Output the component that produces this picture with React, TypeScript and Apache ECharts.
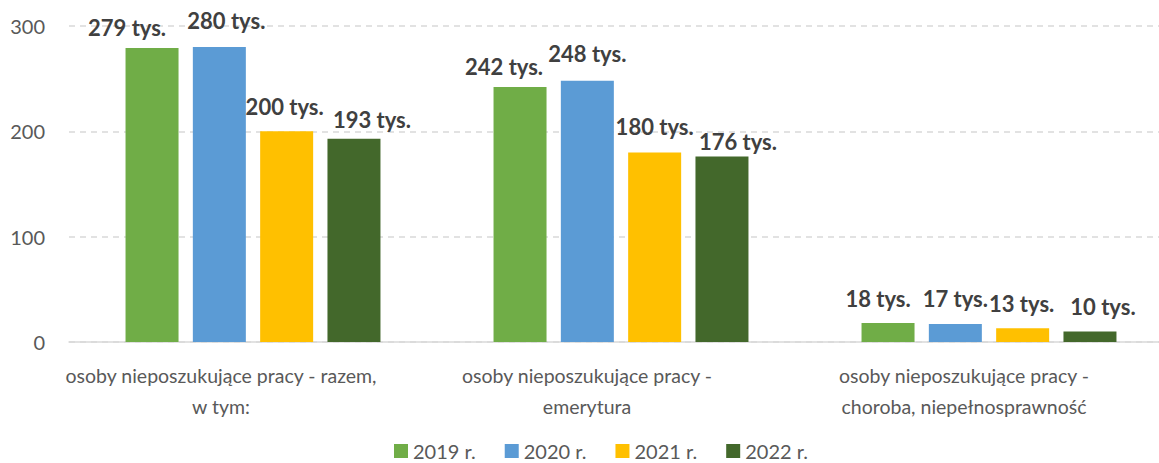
import React, { useEffect, useRef } from "react";
import * as echarts from "echarts";

const categories = [
  "osoby nieposzukujące pracy - razem,\nw tym:",
  "osoby nieposzukujące pracy -\nemerytura",
  "osoby nieposzukujące pracy -\nchoroba, niepełnosprawność",
];
const seriesNames = ["2019 r.", "2020 r.", "2021 r.", "2022 r."];
const values2019 = [279, 242, 18];
const values2020 = [280, 248, 17];
const values2021 = [200, 180, 13];
const values2022 = [193, 176, 10];
const yTicks = [0, 100, 200, 300];
const colors = ["#70AD47", "#5B9BD5", "#FFC000", "#43682B"];
// label nudges (pixels) per series per category, to match manual label placement
const labelNudges = [
  [[-25, 4], [-16, 4], [-10, 0]],
  [[7, -2], [0, -2], [0, -1]],
  [[-2, 0], [0, -1], [-1, 0]],
  [[18, 6], [16, 10], [13, 0]],
];
const catLabelShift = [64, 68, 50];

export default function App() {
  const ref = useRef<HTMLDivElement>(null);
  useEffect(() => {
    if (!ref.current) return;
    const chart = echarts.init(ref.current, null, { renderer: "svg" });
    const all = [values2019, values2020, values2021, values2022];
    const font = "Lato, 'Open Sans', sans-serif";
    const labelFs = 19.5;
    chart.setOption({
      animation: false,
      textStyle: { fontFamily: font },
      grid: { left: 69, top: 26, right: 2, bottom: 121, containLabel: false },
      legend: {
        left: 394,
        top: 441,
        padding: 0,
        itemWidth: 14,
        itemHeight: 14,
        itemGap: 29,
        icon: "rect",
        textStyle: { fontSize: 20, color: "#595959", fontFamily: font },
        data: seriesNames,
      },
      xAxis: {
        type: "category",
        data: categories,
        axisLine: { lineStyle: { color: "#D9D9D9", width: 1.5 } },
        axisTick: { show: false },
        axisLabel: {
          interval: 0,
          margin: 18,
          color: "#595959",
          fontSize: labelFs,
          lineHeight: 31,
          formatter: (v: string, i: number) =>
            v
              .split("\n")
              .map((s) => `{c${i}|${s}}`)
              .join("\n"),
          rich: {
            c0: { padding: [0, catLabelShift[0], 0, 0], fontSize: labelFs, color: "#595959", lineHeight: 31 },
            c1: { padding: [0, catLabelShift[1], 0, 0], fontSize: labelFs, color: "#595959", lineHeight: 31 },
            c2: { padding: [0, catLabelShift[2], 0, 0], fontSize: labelFs, color: "#595959", lineHeight: 31 },
          },
        },
      },
      yAxis: {
        type: "value",
        min: yTicks[0],
        max: yTicks[yTicks.length - 1],
        interval: 100,
        axisLine: { show: false },
        axisTick: { show: false },
        axisLabel: { color: "#595959", fontSize: 20, margin: 24 },
        splitLine: { lineStyle: { color: "#D9D9D9", type: [6, 5], width: 1.5 } },
      },
      series: seriesNames.map((name, si) => ({
        name,
        type: "bar",
        barWidth: 53,
        barGap: "27%",
        itemStyle: { color: colors[si] },
        data: all[si].map((v, ci) => ({
          value: v,
          label: { offset: labelNudges[si][ci] },
        })),
        label: {
          show: true,
          position: "top",
          distance: 14,
          formatter: (p: any) => `${p.value} tys.`,
          fontSize: 22,
          fontWeight: "bold",
          color: "#404040",
          fontFamily: font,
        },
      })),
    });
    return () => chart.dispose();
  }, []);
  return (
    <div
      ref={ref}
      style={{ position: "fixed", left: 0, top: 0, width: 1175, height: 463, background: "#fff" }}
    />
  );
}
